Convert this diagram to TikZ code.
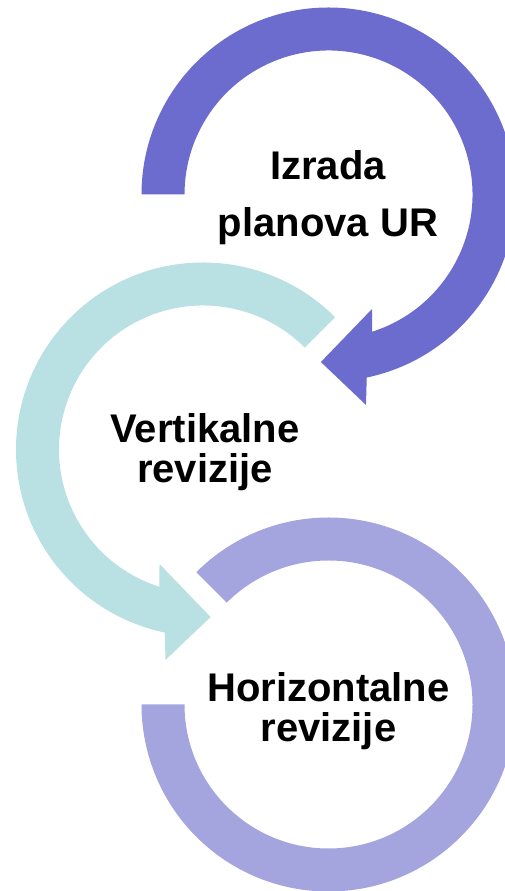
\documentclass[tikz,border=0pt]{standalone}
\usepackage{fontspec}
\setmainfont{Liberation Sans}
\usetikzlibrary{calc}
\definecolor{topc}{HTML}{6C6CCE}
\definecolor{midc}{HTML}{B9E0E3}
\definecolor{botc}{HTML}{A4A4DE}
\begin{document}
\begin{tikzpicture}[x=1pt,y=1pt,
  lbl/.style={font=\fontsize{40}{40}\selectfont\bfseries, align=center, inner sep=0pt, anchor=base, text=black}]
\useasboundingbox (0,0) rectangle (505,891);
\clip (0,0) rectangle (505,891);
\def\Ro{187}
\def\Ri{144}
\coordinate (c1) at (328.5,696.5);
\coordinate (c2) at (203,441.5);
\coordinate (c3) at (328.5,186.5);
% top arrow
\fill[topc] ($(c1)+(180:\Ro)$) arc[start angle=180, end angle=-78.2, radius=\Ro]
  -- ($(c1)+(-79.9:213.8)$) -- ($(c1)+(-92.6:167.7)$) -- ($(c1)+(-69.2:122.5)$)
  -- ($(c1)+(-72.4:\Ri)$) arc[start angle=-72.4, end angle=180, radius=\Ri] -- cycle;
% middle arrow
\fill[midc] ($(c2)+(45:\Ro)$) arc[start angle=45, end angle=258.2, radius=\Ro]
  -- ($(c2)+(259.9:213.8)$) -- ($(c2)+(272.6:167.7)$) -- ($(c2)+(249.2:122.5)$)
  -- ($(c2)+(252.4:\Ri)$) arc[start angle=252.4, end angle=45, radius=\Ri] -- cycle;
% bottom arc
\fill[botc] ($(c3)+(135:\Ro)$) arc[start angle=135, end angle=-180, radius=\Ro]
  -- ($(c3)+(180:\Ri)$) arc[start angle=-180, end angle=135, radius=\Ri] -- cycle;
% labels (base anchor = baseline of the last line)
\node[lbl, font=\fontsize{40}{57}\selectfont\bfseries] (t1) at (328,654) {Izrada\\planova UR};
\node[lbl] (t2) at (205,408) {Vertikalne\\revizije};
\node[lbl] (t3) at (328.5,149) {Horizontalne\\revizije};
\end{tikzpicture}
\end{document}
